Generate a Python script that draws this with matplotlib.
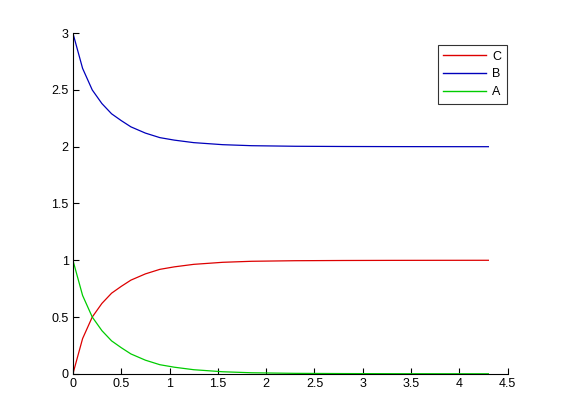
import matplotlib
matplotlib.use('Agg')
import matplotlib.pyplot as plt

# solver time steps and concentrations
t = [0, 0.1, 0.2, 0.3, 0.4, 0.5, 0.6, 0.75, 0.9, 1.05, 1.25, 1.55, 1.85,
     2.3, 2.8, 3.3, 3.8, 4.3]
A = [1.0, 0.69, 0.50, 0.38, 0.29, 0.23, 0.175, 0.12, 0.08, 0.058, 0.036,
     0.018, 0.009, 0.004, 0.002, 0.001, 0.0005, 0.0002]
B = [3.0, 2.69, 2.50, 2.38, 2.29, 2.23, 2.175, 2.12, 2.08, 2.058, 2.036,
     2.018, 2.009, 2.004, 2.002, 2.001, 2.0005, 2.0002]
C = [0.0, 0.31, 0.50, 0.62, 0.71, 0.77, 0.825, 0.88, 0.92, 0.942, 0.964,
     0.982, 0.991, 0.996, 0.998, 0.999, 0.9995, 0.9998]

plt.rcParams['font.family'] = ['Liberation Sans', 'DejaVu Sans']
fig = plt.figure(figsize=(5.61, 4.2), dpi=100)
ax = fig.add_axes([0.13, 0.11, 0.775, 0.811])

ax.plot(t, C, color='#dd0000', linewidth=0.9, label='C')
ax.plot(t, B, color='#0000bb', linewidth=0.9, label='B')
ax.plot(t, A, color='#00cc00', linewidth=0.9, label='A')

ax.set_xlim(0, 4.5)
ax.set_ylim(0, 3)
ax.set_xticks([0, 0.5, 1, 1.5, 2, 2.5, 3, 3.5, 4, 4.5])
ax.set_xticklabels(['0', '0.5', '1', '1.5', '2', '2.5', '3', '3.5', '4', '4.5'])
ax.set_yticks([0, 0.5, 1, 1.5, 2, 2.5, 3])
ax.set_yticklabels(['0', '0.5', '1', '1.5', '2', '2.5', '3'])
ax.tick_params(direction='in', length=4, width=0.8, labelsize=9, pad=3)
ax.spines['top'].set_visible(False)
ax.spines['right'].set_visible(False)
for s in ('left', 'bottom'):
    ax.spines[s].set_linewidth(0.8)

leg = ax.legend(loc='upper right', bbox_to_anchor=(1.012, 0.983), fontsize=9,
                frameon=True, fancybox=False, edgecolor='black',
                handlelength=3.4, handletextpad=0.5, borderpad=0.45,
                labelspacing=0.45)
leg.get_frame().set_linewidth(0.8)
for line in leg.get_lines():
    line.set_linewidth(1.0)

fig.savefig('out.png', dpi=100)
